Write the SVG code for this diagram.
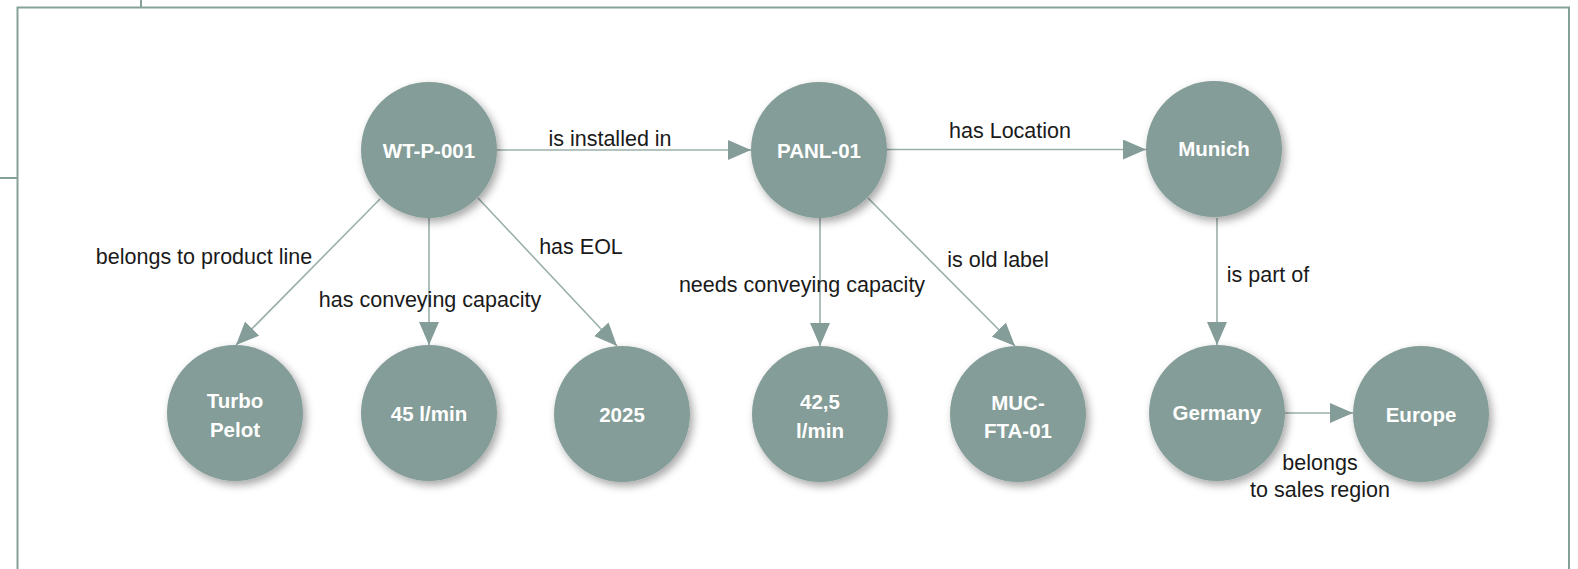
<svg xmlns="http://www.w3.org/2000/svg" width="1578" height="569" viewBox="0 0 1578 569">
<style>
.frame{fill:none;stroke:#86A09A;stroke-width:2}
.node circle{fill:#849D98;filter:url(#sh)}
.node text{font-family:"Liberation Sans",Arial,sans-serif;font-weight:bold;font-size:20.5px;fill:#FFFFFF;text-anchor:middle}
.edge{stroke:#9AB0AB;stroke-width:1.6;fill:none;marker-end:url(#arr)}
.lbl{font-family:"Liberation Sans",Arial,sans-serif;font-size:21.5px;fill:#1a1a1a;text-anchor:middle}
</style>
<defs>
<filter id="sh" x="-30%" y="-30%" width="170%" height="170%">
<feDropShadow dx="3" dy="4" stdDeviation="4" flood-color="#000" flood-opacity="0.35"/>
</filter>
<marker id="arr" markerUnits="userSpaceOnUse" markerWidth="23" markerHeight="20" refX="23" refY="10" orient="auto">
<path d="M0,0 L23,10 L0,20 Z" fill="#849D98"/>
</marker>
</defs>
<rect width="1578" height="569" fill="#FFFFFF"/>
<g id="frame">
<path class="frame" d="M17.5,569 V7.5 H1569 V569"/>
<path class="frame" d="M141,0 V7.5" stroke-width="1.6"/>
<path class="frame" d="M0,178 H17.5" stroke-width="1.6"/>
</g>
<g id="connectors">
<line class="edge" x1="497" y1="150" x2="751" y2="150"/>
<line class="edge" x1="887" y1="149.5" x2="1146" y2="149.5"/>
<line class="edge" x1="380" y1="199" x2="236" y2="345"/>
<line class="edge" x1="429" y1="218" x2="429" y2="345"/>
<line class="edge" x1="478" y1="198" x2="617" y2="346"/>
<line class="edge" x1="820" y1="218" x2="820" y2="346"/>
<line class="edge" x1="868" y1="198" x2="1015" y2="346"/>
<line class="edge" x1="1217" y1="218" x2="1217" y2="345"/>
<line class="edge" x1="1285" y1="413" x2="1353" y2="413"/>
<text class="lbl" x="610" y="146">is installed in</text>
<text class="lbl" x="1010" y="138">has Location</text>
<text class="lbl" x="204" y="264">belongs to product line</text>
<text class="lbl" x="430" y="307">has conveying capacity</text>
<text class="lbl" x="581" y="254">has EOL</text>
<text class="lbl" x="802" y="292">needs conveying capacity</text>
<text class="lbl" x="998" y="267">is old label</text>
<text class="lbl" x="1268" y="282">is part of</text>
<text class="lbl" x="1320" y="470">belongs</text>
<text class="lbl" x="1320" y="497">to sales region</text>
</g>
<g id="n-wtp001" class="node"><circle cx="429" cy="150" r="68"/><text x="429" y="158">WT-P-001</text></g>
<g id="n-panl01" class="node"><circle cx="819" cy="150" r="68"/><text x="819" y="158">PANL-01</text></g>
<g id="n-munich" class="node"><circle cx="1214" cy="149" r="68"/><text x="1214" y="156">Munich</text></g>
<g id="n-turbo" class="node"><circle cx="235" cy="413" r="68"/><text x="235" y="408">Turbo</text><text x="235" y="437">Pelot</text></g>
<g id="n-45" class="node"><circle cx="429" cy="413" r="68"/><text x="429" y="421">45 l/min</text></g>
<g id="n-2025" class="node"><circle cx="622" cy="414" r="68"/><text x="622" y="422">2025</text></g>
<g id="n-425" class="node"><circle cx="820" cy="414" r="68"/><text x="820" y="409">42,5</text><text x="820" y="438">l/min</text></g>
<g id="n-muc" class="node"><circle cx="1018" cy="414" r="68"/><text x="1018" y="410">MUC-</text><text x="1018" y="438">FTA-01</text></g>
<g id="n-germany" class="node"><circle cx="1217" cy="413" r="68"/><text x="1217" y="420">Germany</text></g>
<g id="n-europe" class="node"><circle cx="1421" cy="414" r="68"/><text x="1421" y="422">Europe</text></g>
</svg>
